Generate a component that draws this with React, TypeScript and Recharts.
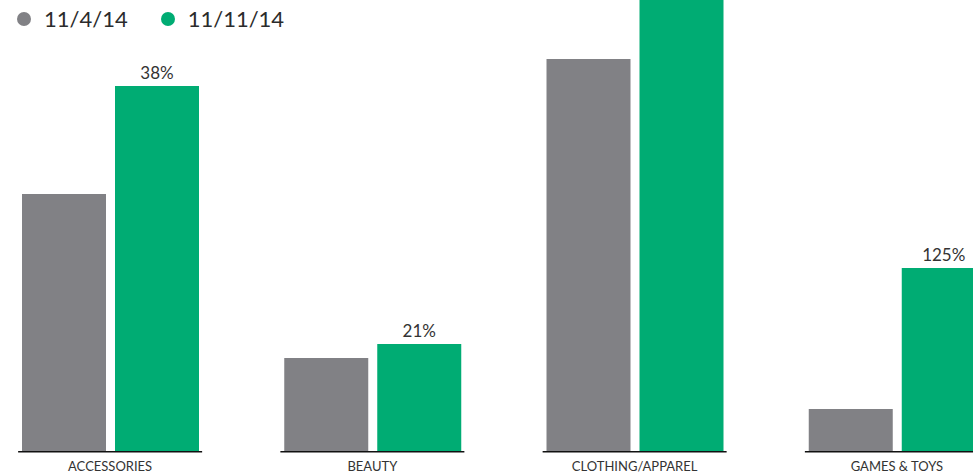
import { BarChart, Bar, XAxis, YAxis, LabelList } from 'recharts';

const categories = ['ACCESSORIES', 'BEAUTY', 'CLOTHING/APPAREL', 'GAMES & TOYS'];
const nov4 = [257, 93, 392, 42];
const nov11 = [365, 107, 470, 183];
const growth = ['38%', '21%', null, '125%'];
const seriesNames = ['11/4/14', '11/11/14'];
const colors = ['#818185', '#00ac73'];

const data = categories.map((name, i) => ({
  name,
  nov4: nov4[i],
  nov11: nov11[i],
  growth: growth[i],
}));

const CategoryTick = (props: any) => {
  const { x, y, payload } = props;
  return (
    <g>
      <line x1={x - 92} x2={x + 92} y1={y + 0.75} y2={y + 0.75} stroke="#111" strokeWidth={1.5} />
      <text
        x={x}
        y={y + 20}
        textAnchor="middle"
        fontSize={13}
        fill="#333"
        fontFamily="Lato, sans-serif"
      >
        {payload.value}
      </text>
    </g>
  );
};

export default function App() {
  return (
    <div
      style={{
        position: 'fixed',
        left: 0,
        top: 0,
        width: 973,
        height: 476,
        overflow: 'hidden',
        background: '#fff',
        fontFamily: 'Lato, sans-serif',
      }}
    >
      <div style={{ position: 'absolute', left: -21, top: 0 }}>
        <BarChart
          width={1049}
          height={476}
          data={data}
          margin={{ top: 0, right: 0, left: 0, bottom: 0 }}
          barSize={84}
          barGap={9}
        >
          <XAxis
            dataKey="name"
            height={25}
            axisLine={false}
            tickLine={false}
            tickSize={0}
            tickMargin={0}
            interval={0}
            tick={<CategoryTick />}
          />
          <YAxis hide domain={[0, 451]} allowDataOverflow />
          <Bar dataKey="nov4" name={seriesNames[0]} fill={colors[0]} isAnimationActive={false} />
          <Bar dataKey="nov11" name={seriesNames[1]} fill={colors[1]} isAnimationActive={false}>
            <LabelList
              dataKey="growth"
              position="top"
              offset={7}
              fontSize={17}
              fill="#333"
              fontFamily="Lato, sans-serif"
            />
          </Bar>
        </BarChart>
      </div>
      <div
        style={{
          position: 'absolute',
          left: 17,
          top: 5,
          display: 'flex',
          alignItems: 'center',
          fontSize: 22,
          color: '#2b2b2b',
          lineHeight: '28px',
        }}
      >
        {seriesNames.map((s, i) => (
          <div key={s} style={{ display: 'flex', alignItems: 'center', marginRight: 33 }}>
            <span
              style={{
                display: 'inline-block',
                width: 14,
                height: 14,
                borderRadius: 7,
                background: colors[i],
                marginRight: 13,
              }}
            />
            <span>{s}</span>
          </div>
        ))}
      </div>
    </div>
  );
}
